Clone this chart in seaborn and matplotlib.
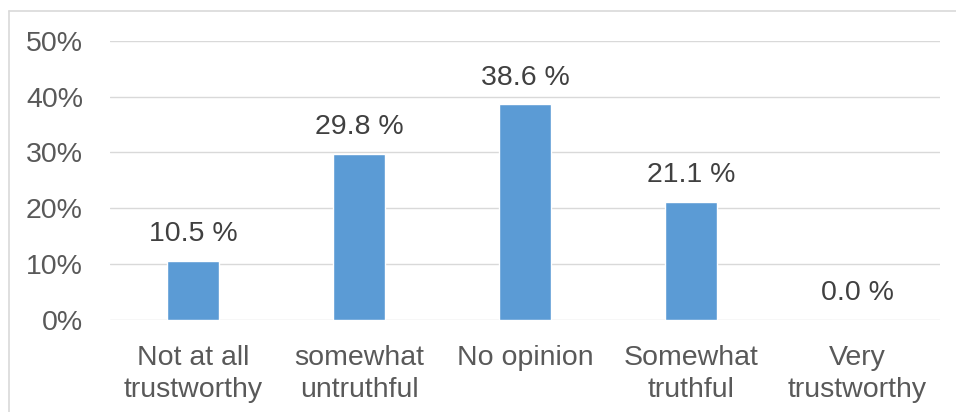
import matplotlib
matplotlib.use("Agg")
import matplotlib.pyplot as plt
from matplotlib.lines import Line2D
from matplotlib.ticker import FixedLocator
import seaborn as sns
import pandas as pd

categories = ["Not at all\ntrustworthy", "somewhat\nuntruthful", "No opinion",
              "Somewhat\ntruthful", "Very\ntrustworthy"]
shares = [10.5, 29.8, 38.6, 21.1, 0.0]
y_ticks = [0, 10, 20, 30, 40, 50]
y_tick_labels = ["0%", "10%", "20%", "30%", "40%", "50%"]

df = pd.DataFrame({"category": categories, "share": shares})

sns.set_style("white")
plt.rcParams["font.family"] = ["Liberation Sans", "DejaVu Sans"]

W, H = 956, 412
fig = plt.figure(figsize=(W / 100, H / 100), dpi=100)
ax = fig.add_axes([110 / W, 1 - 319.5 / H, 830 / W, 278.5 / H])

sns.barplot(data=df, x="category", y="share", color="#5B9BD5",
            width=0.315, saturation=1, ax=ax, zorder=3)

ax.set_ylim(0, 50)
ax.yaxis.set_major_locator(FixedLocator(y_ticks))
ax.set_yticklabels(y_tick_labels)
ax.set_xlim(-0.5, len(categories) - 0.5)
ax.grid(axis="y", color="#D9D9D9", linewidth=1.0, zorder=0)
ax.set_axisbelow(True)
for s in ax.spines.values():
    s.set_visible(False)

ax.set_xlabel("")
ax.set_ylabel("")
ax.tick_params(axis="y", length=0, pad=19.5, labelsize=20.5, labelcolor="#595959")
ax.tick_params(axis="x", length=0, pad=18.5, labelsize=20.5, labelcolor="#595959")
for lbl in ax.get_xticklabels():
    lbl.set_linespacing(1.27)

for container in ax.containers:
    ax.bar_label(container, labels=[f"{v:.1f} %" for v in shares],
                 padding=10, fontsize=20.5, color="#404040")

# chart-area frame (left and top edges)
fig.add_artist(Line2D([8.5 / W, 8.5 / W], [0, 1 - 11 / H], transform=fig.transFigure,
                      color="#D9D9D9", linewidth=1.2))
fig.add_artist(Line2D([8.5 / W, 1], [1 - 11 / H, 1 - 11 / H], transform=fig.transFigure,
                      color="#D9D9D9", linewidth=1.2))

fig.savefig("out.png", dpi=100)
